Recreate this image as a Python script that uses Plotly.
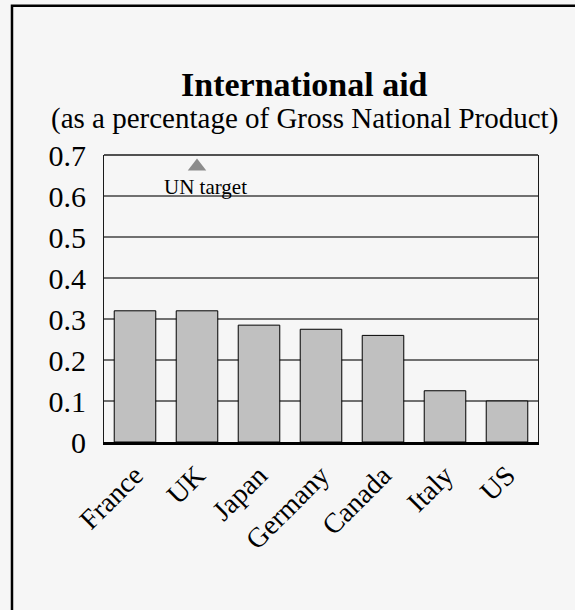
import plotly.graph_objects as go

countries = ["France", "UK", "Japan", "Germany", "Canada", "Italy", "US"]
aid_pct_gnp = [0.32, 0.32, 0.285, 0.275, 0.26, 0.125, 0.10]
un_target_x = ["UK"]
un_target_y = [0.672]
un_label = "UN target"
y_ticks = [0, 0.1, 0.2, 0.3, 0.4, 0.5, 0.6, 0.7]

FONT = "Liberation Serif, Times New Roman, serif"
BG = "#f6f6f6"

fig = go.Figure()
fig.add_trace(go.Bar(
    x=countries, y=aid_pct_gnp,
    marker=dict(color="#c0c0c0", line=dict(color="#000000", width=1)),
    width=0.67, showlegend=False, hoverinfo="x+y",
))
fig.add_trace(go.Scatter(
    x=un_target_x, y=un_target_y, mode="markers",
    marker=dict(symbol="triangle-up", size=16, color="#8c8c8c"),
    showlegend=False, cliponaxis=False,
))

fig.update_layout(
    width=575, height=610,
    margin=dict(l=104, r=37, t=155, b=168),
    paper_bgcolor=BG, plot_bgcolor=BG,
    font=dict(family=FONT, color="#000000"),
    bargap=0.33,
    annotations=[
        dict(text="<b>International aid</b>", xref="paper", yref="paper",
             x=0.461, y=1.246, xanchor="center", yanchor="middle",
             showarrow=False, font=dict(size=34, family=FONT, color="#000")),
        dict(text="(as a percentage of Gross National Product)", xref="paper", yref="paper",
             x=0.461, y=1.126, xanchor="center", yanchor="middle",
             showarrow=False, font=dict(size=29, family=FONT, color="#000")),
        dict(text=un_label, x=un_target_x[0], y=0.622, xref="x", yref="y",
             xshift=8, xanchor="center", yanchor="middle",
             showarrow=False, font=dict(size=21, family=FONT, color="#000")),
    ],
    shapes=[
        dict(type="rect", xref="paper", yref="paper",
             x0=-0.2120, x1=1.5, y0=-1.0, y1=1.520,
             line=dict(color="#000", width=2.5), fillcolor="rgba(0,0,0,0)", layer="above"),
        dict(type="line", xref="paper", yref="paper", x0=0, x1=1, y0=1, y1=1,
             line=dict(color="#1a1a1a", width=1.5)),
    ],
)
fig.update_xaxes(
    showline=True, linecolor="#000", linewidth=2.5, mirror=False,
    ticks="", tickangle=-45, ticklabelstandoff=3,
    tickfont=dict(size=28, family=FONT, color="#000"),
    showgrid=False,
)
fig.update_yaxes(
    range=[0, 0.7], tickvals=y_ticks, ticktext=[f"{v:g}" for v in y_ticks],
    showline=True, linecolor="#1a1a1a", linewidth=1.2, mirror=True,
    showgrid=True, gridcolor="#707070", gridwidth=1.5,
    zeroline=False, ticks="", ticklabelstandoff=11,
    tickfont=dict(size=30, family=FONT, color="#000"),
)

fig.write_html("out.html")
